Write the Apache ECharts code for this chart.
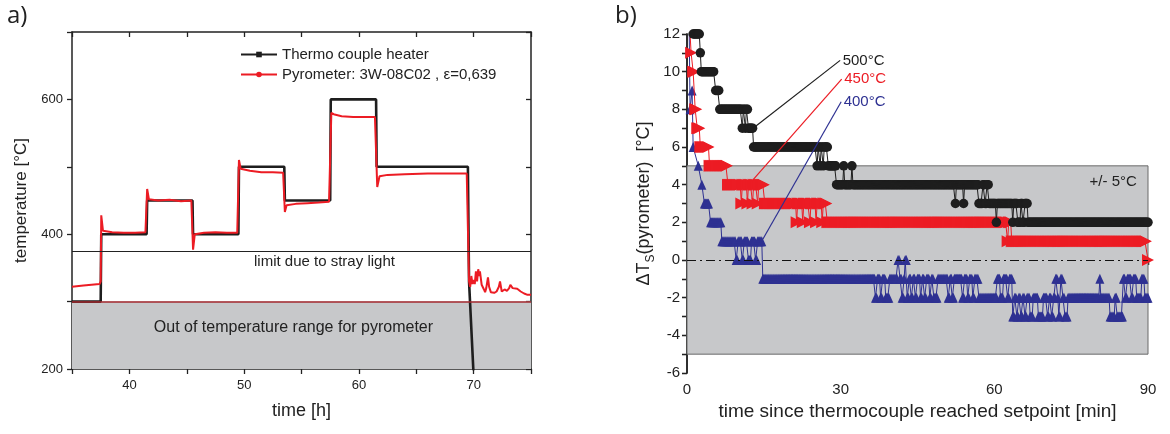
<!DOCTYPE html>
<html><head><meta charset="utf-8">
<script src="https://cdn.jsdelivr.net/npm/echarts@6/dist/echarts.min.js"></script>
<style>html,body{margin:0;padding:0;background:#fff}#c{width:1170px;height:434px}</style>
</head><body><div id="c"></div>
<script>
// ---------- Panel a data: [time h, temperature °C] ----------
const tcHeater = [[35,300],[37.5,300],[37.55,400],[41.5,400],[41.55,450],[45.5,450],[45.55,400],[49.5,400],[49.55,500],[53.5,500],[53.55,450],[57.5,450],[57.55,600],[61.5,600],[61.55,500],[69.5,500],[69.6,330],[70.0,190]];
const pyrometer = [[35,322],[36,324],[37.4,326],[37.5,330],[37.55,428],[37.7,405],[38.5,403],[39.5,402],[40.5,402],[41.4,403],[41.5,404],[41.55,467],[41.7,452],[42.5,450],[43.5,451],[44.5,449],[45.4,450],[45.5,448],[45.55,377],[45.7,400],[46.5,402],[47.5,403],[48.5,402],[49.4,402],[49.5,404],[49.55,510],[49.7,497],[50.5,494],[51.5,492],[52.5,492],[53.4,491],[53.5,490],[53.55,433],[53.7,443],[54.5,445],[55.5,446],[56.5,447],[57.4,448],[57.5,450],[57.6,580],[57.8,578],[58.5,575],[59.5,574],[60.5,574],[61.4,574],[61.5,572],[61.6,470],[61.8,486],[62.5,488],[64,489],[66,490],[68,490],[69.4,490],[69.5,488],[69.6,330],[69.7,322],[69.8,338],[69.9,326],[70.0,332],[70.1,326],[70.2,345],[70.3,330],[70.4,348],[70.5,338],[70.55,345],[70.7,325],[70.9,318],[71.0,314],[71.1,320],[71.25,336],[71.35,322],[71.5,314],[71.8,313],[72.0,315],[72.2,322],[72.3,330],[72.45,315],[72.7,318],[72.9,316],[73.1,320],[73.2,325],[73.4,320],[73.8,319],[74.1,315],[74.4,312],[74.7,310],[75,310]];
const strayLightLimit = 375;
const pyroRangeMin = 300;

// ---------- Panel b data: plateau runs [from min, to min, ΔT °C] ----------
const runs500 = [[1.2,2.4,12],[2.6,2.6,11],[2.8,5.2,10],[5.6,6.2,9],[6.4,10.6,8],[10.8,10.8,7],[11.0,11.2,8],[11.4,11.4,7],[11.6,11.8,8],[12.0,12.8,7],
 [13.0,25.2,6],[25.4,25.4,5],[25.6,25.8,6],[26.0,26.0,5],[26.2,26.4,6],[26.6,26.6,5],[26.8,27.4,6],
 [27.6,29.0,5],[29.2,30.4,4],[30.6,30.6,5],[30.8,32.0,4],[32.2,32.2,5],[32.4,52.2,4],[52.4,52.4,3],[52.6,53.8,4],[54.0,54.0,3],[54.2,56.8,4],
 [57.0,57.6,3],[57.8,58.0,4],[58.2,58.4,3],[58.6,58.8,4],[59.0,60.2,3],[60.4,60.4,2],[60.6,63.4,3],[63.6,63.6,2],[63.8,64.4,3],[64.6,65.0,2],[65.2,65.4,3],[65.6,65.8,2],[66.0,66.4,3],[66.6,90,2]];
const runs450 = [[0.4,0.4,13],[0.8,0.8,11],[1.2,1.4,10],[1.6,1.8,8],[2.0,2.4,7],[2.6,4.2,6],[4.4,7.8,5],[8.0,10.4,4],[10.6,10.6,3],[10.8,11.6,4],[11.8,11.8,3],[12.0,12.6,4],[12.8,12.8,3],[13.0,13.6,4],[13.8,13.8,3],[14.0,15.0,4],
 [15.2,21.2,3],[21.4,21.4,2],[21.6,22.4,3],[22.6,22.6,2],[22.8,23.8,3],[24.0,24.0,2],[24.2,25.0,3],[25.2,25.2,2],[25.4,26.2,3],[26.4,26.4,2],[26.6,27.2,3],
 [27.4,62.4,2],[62.6,62.6,1],[62.8,63.2,2],[63.4,89.6,1],[90,90,0]];
const runs400 = [[0.4,0.4,13],[0.6,0.6,8],[1.0,1.0,9],[1.2,1.2,6],[2.2,2.2,5],[2.9,2.9,4],[3.4,4.2,3],[4.6,6.6,2],[6.8,9.4,1],[9.6,9.8,0],[10.0,10.6,1],[10.8,11.0,0],[11.2,11.8,1],[12.0,12.4,0],[12.6,13.2,1],[13.4,13.6,0],[13.8,14.6,1],
 [14.8,36.6,-1],[36.8,37.0,-2],[37.2,37.6,-1],[37.8,38.0,-2],[38.2,38.6,-1],[38.8,39.4,-2],[39.6,41.0,-1],
 [41.2,41.4,0],[41.6,41.8,-1],[42.0,42.2,-2],[42.4,42.4,-1],[42.6,42.8,0],[43.0,43.2,-2],[43.4,43.6,-1],
 [43.8,44.0,-2],[44.2,44.4,-1],[44.6,44.8,-2],[45.0,45.4,-1],[45.6,45.8,-2],[46.0,46.2,-1],[46.4,46.6,-2],[46.8,47.2,-1],[47.4,47.6,-2],[47.8,48.0,-1],[48.2,48.8,-2],[49.0,50.8,-1],
 [51.0,51.2,-2],[51.4,51.6,-1],[51.8,52.0,-2],[52.2,53.6,-1],[53.8,54.0,-2],[54.2,54.6,-1],[54.8,55.0,-2],[55.2,55.6,-1],[55.8,56.0,-2],[56.2,56.8,-1],
 [57.0,60.4,-2],[60.6,61.0,-1],[61.2,61.6,-2],[61.8,62.4,-1],[62.6,62.8,-2],[63.0,63.4,-1],
 [63.6,63.8,-3],[64.0,64.2,-2],[64.4,64.6,-3],[64.8,65.0,-2],[65.2,65.4,-3],[65.6,65.8,-2],[66.0,66.2,-3],[66.4,66.8,-2],[67.0,67.4,-3],[67.6,68.4,-2],[68.6,69.4,-3],[69.6,70.2,-2],[70.4,70.6,-3],[70.8,71.0,-2],[71.2,71.4,-3],[71.6,71.8,-2],[72.0,72.2,-1],[72.4,72.4,-2],[72.6,72.8,-3],[73.0,73.2,-1],[73.4,73.6,-2],[73.8,74.2,-3],
 [74.4,80.4,-2],[80.6,80.6,-1],[80.8,82.4,-2],[82.6,83.4,-3],[83.6,83.8,-2],[84.0,85.0,-3],[85.2,85.4,-1],[85.6,85.8,-2],[86.0,86.6,-1],[86.8,87.0,-2],[87.2,87.6,-1],[87.8,88.6,-2],[88.8,89.2,-1],[89.4,90,-2]];
const sampleStep = 0.2;
const toleranceBand = 5;
// leader lines from labels to curves [min, ΔT]
const leader500 = [[29.9,10.6],[12.9,7.0]];
const leader450 = [[30.2,9.6],[12.7,4.2]];
const leader400 = [[30.1,8.4],[14.8,1.1]];

function expand(runs){
  const out=[];
  runs.forEach(([a,b,v])=>{ for(let t=a;t<=b+1e-9;t+=sampleStep) out.push([+t.toFixed(2),v]); });
  return out;
}

const FONT = '"Liberation Sans", Arial, sans-serif';
const AX = '#222';
const RED = '#ec1c24', BLUE = '#2e3192', BLK = '#1e1e1e', GRAY = '#c7c8ca';

function mainX(grid,min,max,iv,fmt,name,gap){
  return {gridIndex:grid,type:'value',min,max,interval:iv,position:'bottom',
    axisLine:{lineStyle:{color:AX,width:1.5}},axisTick:{length:5,lineStyle:{color:AX,width:1.3}},
    axisLabel:{formatter:fmt,fontSize:grid?15:13,color:AX,margin:grid?9:10,fontFamily:FONT},
    splitLine:{show:false},name,nameLocation:'middle',nameGap:gap,
    nameTextStyle:{fontSize:grid?19:18,color:AX,fontFamily:FONT}};
}
function mirrorX(grid,min,max,iv){
  return {gridIndex:grid,type:'value',min,max,interval:iv,position:'top',
    axisLine:{lineStyle:{color:AX,width:1.5}},axisTick:{inside:true,length:5,lineStyle:{color:AX,width:1.3}},
    axisLabel:{show:false},splitLine:{show:false}};
}
function mainY(grid,min,max,iv,fmt,name,gap,rich){
  const o={gridIndex:grid,type:'value',min,max,interval:iv,position:'left',
    axisLine:{show:true,lineStyle:{color:AX,width:1.5}},axisTick:{show:true,length:5,lineStyle:{color:AX,width:1.3}},
    axisLabel:{formatter:fmt,fontSize:grid?15:13,color:AX,margin:grid?7:9,fontFamily:FONT},
    splitLine:{show:false},name,nameLocation:'middle',nameGap:gap,
    nameTextStyle:{fontSize:grid?18:17,color:AX,fontFamily:FONT}};
  if(rich) o.nameTextStyle.rich=rich;
  return o;
}
function mirrorY(grid,min,max,iv){
  return {gridIndex:grid,type:'value',min,max,interval:iv,position:'right',
    axisLine:{show:true,lineStyle:{color:AX,width:1.5}},axisTick:{show:true,inside:true,length:5,lineStyle:{color:AX,width:1.3}},
    axisLabel:{show:false},splitLine:{show:false}};
}
function textPoint(coord,text,color,size,pos){
  return {coord,symbol:'circle',symbolSize:1,itemStyle:{color:'rgba(0,0,0,0)'},
    label:{show:true,position:pos||'inside',distance:2,formatter:text,color,fontSize:size,fontFamily:FONT}};
}

const chart = echarts.init(document.getElementById('c'),null,{renderer:'canvas'});
const option = {
  animation:false,
  backgroundColor:'#fff',
  textStyle:{fontFamily:FONT},
  grid:[{left:72,top:32,width:459,height:337},{left:687,top:34,width:461,height:339}],
  xAxis:[
    mainX(0,35,75,5,v=>(v%10===0&&v>35&&v<75)?String(v):'','time [h]',33),
    mirrorX(0,35,75,5),
    mainX(1,0,90,15,v=>v%30===0?String(v):'','time since thermocouple reached setpoint [min]',29),
    mirrorX(1,0,90,15)
  ],
  yAxis:[
    mainY(0,200,700,100,v=>v%200===0&&v<700?String(v):'','temperature [°C]',42),
    mirrorY(0,200,700,100),
    mainY(1,-6,12,1,v=>v%2===0?String(v):'','{a|ΔT}{s|S}{a|(pyrometer)  [°C]}',30,
      {a:{fontSize:18,color:AX,fontFamily:FONT,lineHeight:26,verticalAlign:'middle'},
       s:{fontSize:12,color:AX,fontFamily:FONT,lineHeight:26,verticalAlign:'bottom'}}),
    mirrorY(1,-6,12,1)
  ],
  legend:{data:['Thermo couple heater','Pyrometer: 3W-08C02 , ε=0,639'],left:240,top:47,orient:'vertical',
    itemWidth:36,itemHeight:7,itemGap:5,padding:0,textStyle:{fontSize:15,color:AX,fontFamily:FONT}},
  graphic:[
    {type:'text',left:7,top:4,style:{text:'a)',fontSize:24,fill:'#222',fontFamily:'"Open Sans", sans-serif'}},
    {type:'text',left:615,top:4,style:{text:'b)',fontSize:24,fill:'#222',fontFamily:'"Open Sans", sans-serif'}}
  ],
  series:[
    {name:'Thermo couple heater',type:'line',xAxisIndex:0,yAxisIndex:0,data:tcHeater,showSymbol:false,symbol:'rect',symbolSize:6,
      itemStyle:{color:BLK},lineStyle:{color:BLK,width:2.6},z:3,
      markArea:{silent:true,itemStyle:{color:GRAY},data:[[{yAxis:200},{yAxis:pyroRangeMin}]]},
      markLine:{silent:true,symbol:'none',label:{show:false},data:[
        {yAxis:strayLightLimit,lineStyle:{color:'#222',width:1,type:'solid'}},
        {yAxis:pyroRangeMin,lineStyle:{color:'#a52a2f',width:1.6,type:'solid'}}]},
      markPoint:{silent:true,data:[
        textPoint([57.0,358.5],'limit due to stray light','#222',15),
        textPoint([54.3,262],'Out of temperature range for pyrometer','#222',16)]}
    },
    {name:'Pyrometer: 3W-08C02 , ε=0,639',type:'line',xAxisIndex:0,yAxisIndex:0,data:pyrometer,showSymbol:false,symbol:'circle',symbolSize:6,
      itemStyle:{color:RED},lineStyle:{color:RED,width:2},z:4},
    {name:'400°C',type:'line',xAxisIndex:2,yAxisIndex:2,data:expand(runs400),symbol:'triangle',symbolSize:[9,10],
      itemStyle:{color:BLUE},lineStyle:{color:BLUE,width:1},z:3,
      markArea:{silent:true,itemStyle:{color:GRAY,borderColor:'#6a6a6a',borderWidth:1},data:[[{yAxis:-toleranceBand},{yAxis:toleranceBand}]]},
      markLine:{silent:true,symbol:'none',label:{show:false},data:[{yAxis:0,lineStyle:{color:'#111',width:1.2,type:[9,4,2,4]}}]},
      markPoint:{silent:true,data:[textPoint([83.2,4.16],'+/- 5°C','#222',15)]}
    },
    {name:'450°C',type:'line',xAxisIndex:2,yAxisIndex:2,data:expand(runs450),symbol:'triangle',symbolRotate:-90,symbolSize:[12,12],
      itemStyle:{color:RED},lineStyle:{color:RED,width:1},z:4},
    {name:'500°C',type:'line',xAxisIndex:2,yAxisIndex:2,data:expand(runs500),symbol:'circle',symbolSize:9.5,
      itemStyle:{color:BLK},lineStyle:{color:BLK,width:1},z:5},
    {type:'line',xAxisIndex:2,yAxisIndex:2,data:leader500,showSymbol:false,lineStyle:{color:BLK,width:1.2},z:10,
      markPoint:{silent:true,data:[textPoint(leader500[0],'500°C',BLK,15,'right')]}},
    {type:'line',xAxisIndex:2,yAxisIndex:2,data:leader450,showSymbol:false,lineStyle:{color:RED,width:1.2},z:10,
      markPoint:{silent:true,data:[textPoint(leader450[0],'450°C',RED,15,'right')]}},
    {type:'line',xAxisIndex:2,yAxisIndex:2,data:leader400,showSymbol:false,lineStyle:{color:BLUE,width:1.2},z:10,
      markPoint:{silent:true,data:[textPoint(leader400[0],'400°C',BLUE,15,'right')]}}
  ]
};
chart.setOption(option);
</script></body></html>
